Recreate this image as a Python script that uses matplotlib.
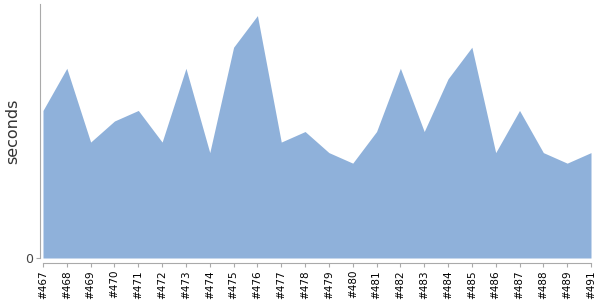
import numpy as np
import matplotlib
matplotlib.use("Agg")
import matplotlib.pyplot as plt

# Build labels (no #490 in the source chart) and durations in seconds
builds = ["#467", "#468", "#469", "#470", "#471", "#472", "#473", "#474",
          "#475", "#476", "#477", "#478", "#479", "#480", "#481", "#482",
          "#483", "#484", "#485", "#486", "#487", "#488", "#489", "#491"]
seconds = [14, 18, 11, 13, 14, 11, 18, 10, 20, 23, 11, 12,
           10, 9, 12, 18, 12, 17, 20, 10, 14, 10, 9, 10]

fig = plt.figure(figsize=(6, 3), dpi=100)
ax = fig.add_axes([43 / 600, 42 / 300, 548 / 600, 254 / 300])

# spines first: set_position resets the tick formatting
for s in ["top", "right"]:
    ax.spines[s].set_visible(False)
ax.spines["left"].set_position(("outward", 2))
ax.spines["bottom"].set_position(("outward", 3.6))
for s in ["left", "bottom"]:
    ax.spines[s].set_color("#aaaaaa")
    ax.spines[s].set_linewidth(0.8)

x = np.arange(len(builds))
ax.fill_between(x, 0, seconds, color="#8fb1da", linewidth=0)

ax.set_xlim(0, len(builds) - 1)
ax.set_ylim(0, 24.1)

ax.set_xticks(x)
ax.set_xticklabels(builds, rotation=90, fontsize=7.5, color="black")
ax.set_yticks([0])
ax.set_yticklabels(["0"], fontsize=9, color="#444444")
ax.tick_params(axis="x", length=3, width=0.8, color="#aaaaaa", pad=2)
ax.tick_params(axis="y", length=3, width=0.8, color="#aaaaaa", pad=2)

ax.set_ylabel("seconds", fontsize=11.5, color="#333333")
ax.yaxis.set_label_coords(-0.041, 0.5)

fig.savefig("out.png", dpi=100)
